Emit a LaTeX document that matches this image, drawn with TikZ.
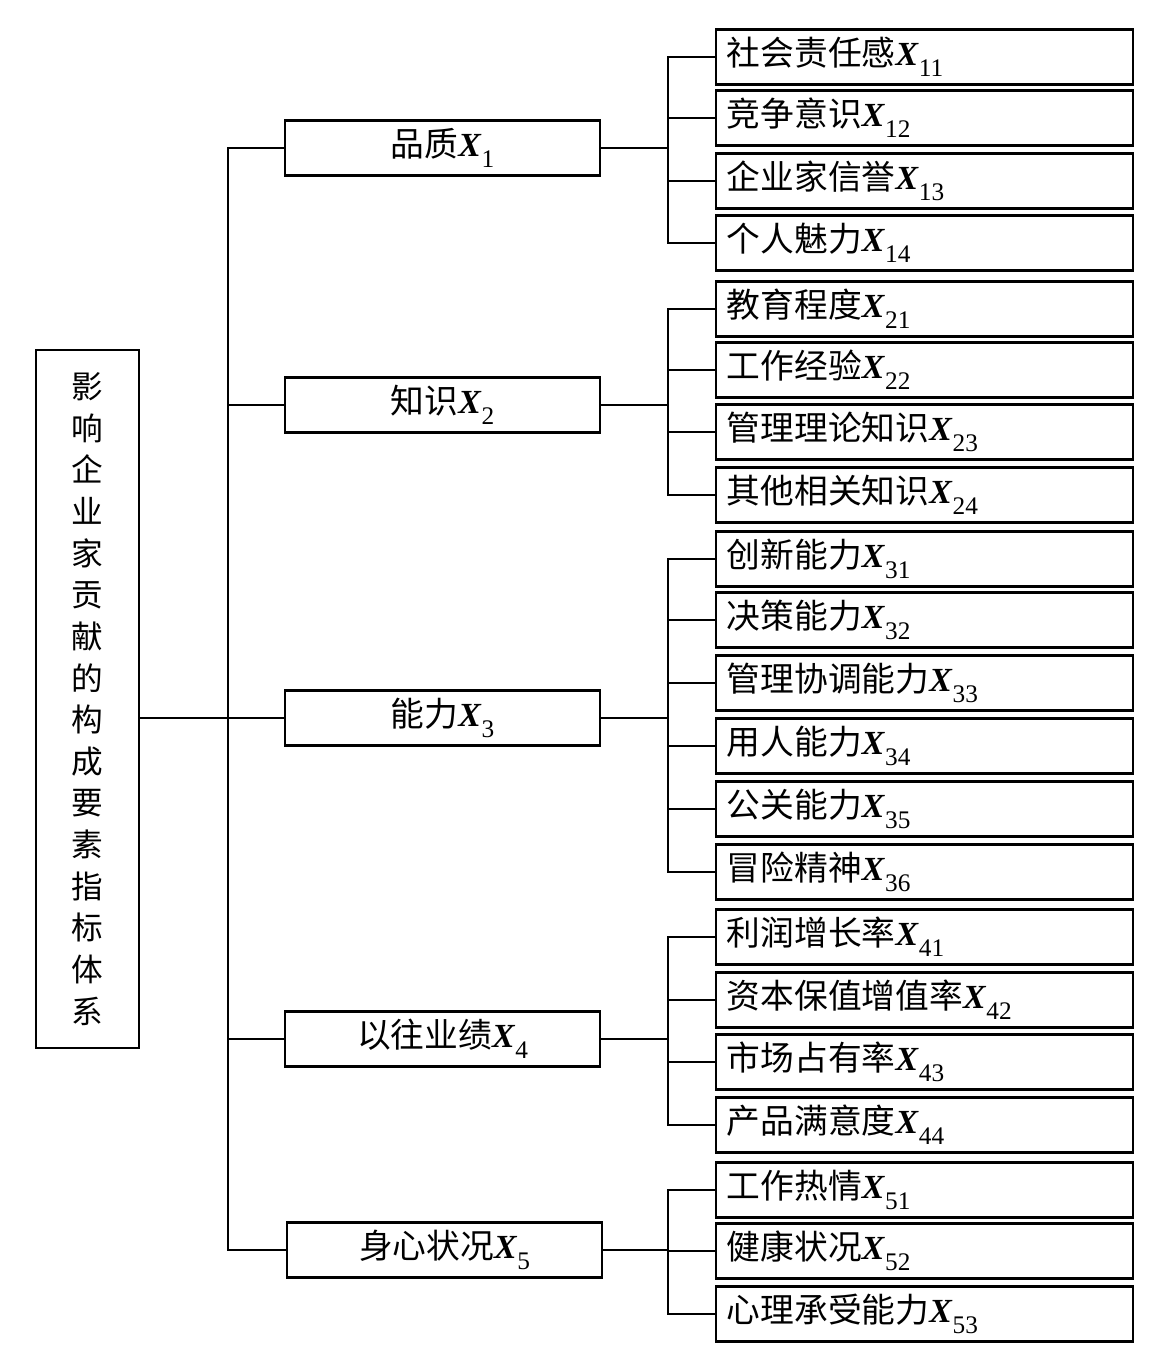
\documentclass[tikz,border=0pt]{standalone}
\usepackage{fontspec}
\setmainfont{Liberation Serif}
\newfontfamily\cjk{Noto Sans CJK SC}
\usepackage{tikz}

\newcommand{\xs}[1]{\textbf{\textit{X}}\raisebox{-0.7ex}{\fontsize{18}{18}\selectfont #1}}

\tikzset{
  rootbox/.style={draw, line width=1.3pt, minimum width=2.575cm, minimum height=17.45cm,
    inner sep=0pt, align=center, font=\cjk\fontsize{22.5}{29.6}\selectfont},
  midbox/.style={draw, line width=2pt, minimum width=7.875cm, minimum height=1.36cm,
    inner sep=0pt, font=\fontsize{24}{28}\selectfont},
  leafbox/.style={draw, line width=2pt, text width=9.875cm, minimum height=1.36cm,
    inner xsep=0.275cm, inner ysep=0pt, align=left, font=\fontsize{24}{28}\selectfont},
  link/.style={line width=1.3pt}
}

\begin{document}
\begin{tikzpicture}[x=0.025cm, y=-0.025cm]
    \useasboundingbox (0,0) rectangle (1161,1349);

    % Raiz
    \node[rootbox] (root) at (87.5,699) {影\\响\\企\\业\\家\\贡\\献\\的\\构\\成\\要\\素\\指\\标\\体\\系};

    % Indicadores de primeiro nivel
    \node[midbox] (x1) at (442.5,148) {{\cjk 品质}\xs{1}};
    \node[midbox] (x2) at (442.5,405) {{\cjk 知识}\xs{2}};
    \node[midbox] (x3) at (442.5,718) {{\cjk 能力}\xs{3}};
    \node[midbox] (x4) at (442.5,1039) {{\cjk 以往业绩}\xs{4}};
    \node[midbox] (x5) at (444.5,1250) {{\cjk 身心状况}\xs{5}};

    % Indicadores de segundo nivel
    \node[leafbox] (x11) at (924.5,57) {{\cjk 社会责任感}\xs{11}};
    \node[leafbox] (x12) at (924.5,118) {{\cjk 竞争意识}\xs{12}};
    \node[leafbox] (x13) at (924.5,181) {{\cjk 企业家信誉}\xs{13}};
    \node[leafbox] (x14) at (924.5,243) {{\cjk 个人魅力}\xs{14}};

    \node[leafbox] (x21) at (924.5,309) {{\cjk 教育程度}\xs{21}};
    \node[leafbox] (x22) at (924.5,370) {{\cjk 工作经验}\xs{22}};
    \node[leafbox] (x23) at (924.5,432) {{\cjk 管理理论知识}\xs{23}};
    \node[leafbox] (x24) at (924.5,495) {{\cjk 其他相关知识}\xs{24}};

    \node[leafbox] (x31) at (924.5,559) {{\cjk 创新能力}\xs{31}};
    \node[leafbox] (x32) at (924.5,620) {{\cjk 决策能力}\xs{32}};
    \node[leafbox] (x33) at (924.5,683) {{\cjk 管理协调能力}\xs{33}};
    \node[leafbox] (x34) at (924.5,746) {{\cjk 用人能力}\xs{34}};
    \node[leafbox] (x35) at (924.5,809) {{\cjk 公关能力}\xs{35}};
    \node[leafbox] (x36) at (924.5,872) {{\cjk 冒险精神}\xs{36}};

    \node[leafbox] (x41) at (924.5,937) {{\cjk 利润增长率}\xs{41}};
    \node[leafbox] (x42) at (924.5,1000) {{\cjk 资本保值增值率}\xs{42}};
    \node[leafbox] (x43) at (924.5,1062) {{\cjk 市场占有率}\xs{43}};
    \node[leafbox] (x44) at (924.5,1125) {{\cjk 产品满意度}\xs{44}};

    \node[leafbox] (x51) at (924.5,1190) {{\cjk 工作热情}\xs{51}};
    \node[leafbox] (x52) at (924.5,1251) {{\cjk 健康状况}\xs{52}};
    \node[leafbox] (x53) at (924.5,1314) {{\cjk 心理承受能力}\xs{53}};

    % Linhas da raiz
    \coordinate (t) at (228,0);
    \draw[link] (root.east |- x3.west) -- (x3.west);
    \draw[link] (x1.west) -| (t |- x5.west) -- (x5.west);
    \draw[link] (t |- x2.west) -- (x2.west);
    \draw[link] (t |- x4.west) -- (x4.west);

    % Linhas dos grupos
    \coordinate (b) at (668,0);
    \draw[link] (x1.east) -- (b |- x1.east);
    \draw[link] (x11.west) -| (b |- x14.west) -- (x14.west);
    \draw[link] (b |- x12.west) -- (x12.west);
    \draw[link] (b |- x13.west) -- (x13.west);

    \draw[link] (x2.east) -- (b |- x2.east);
    \draw[link] (x21.west) -| (b |- x24.west) -- (x24.west);
    \draw[link] (b |- x22.west) -- (x22.west);
    \draw[link] (b |- x23.west) -- (x23.west);

    \draw[link] (x3.east) -- (b |- x3.east);
    \draw[link] (x31.west) -| (b |- x36.west) -- (x36.west);
    \draw[link] (b |- x32.west) -- (x32.west);
    \draw[link] (b |- x33.west) -- (x33.west);
    \draw[link] (b |- x34.west) -- (x34.west);
    \draw[link] (b |- x35.west) -- (x35.west);

    \draw[link] (x4.east) -- (b |- x4.east);
    \draw[link] (x41.west) -| (b |- x44.west) -- (x44.west);
    \draw[link] (b |- x42.west) -- (x42.west);
    \draw[link] (b |- x43.west) -- (x43.west);

    \draw[link] (x5.east) -- (b |- x5.east);
    \draw[link] (x51.west) -| (b |- x53.west) -- (x53.west);
    \draw[link] (b |- x52.west) -- (x52.west);
\end{tikzpicture}
\end{document}
